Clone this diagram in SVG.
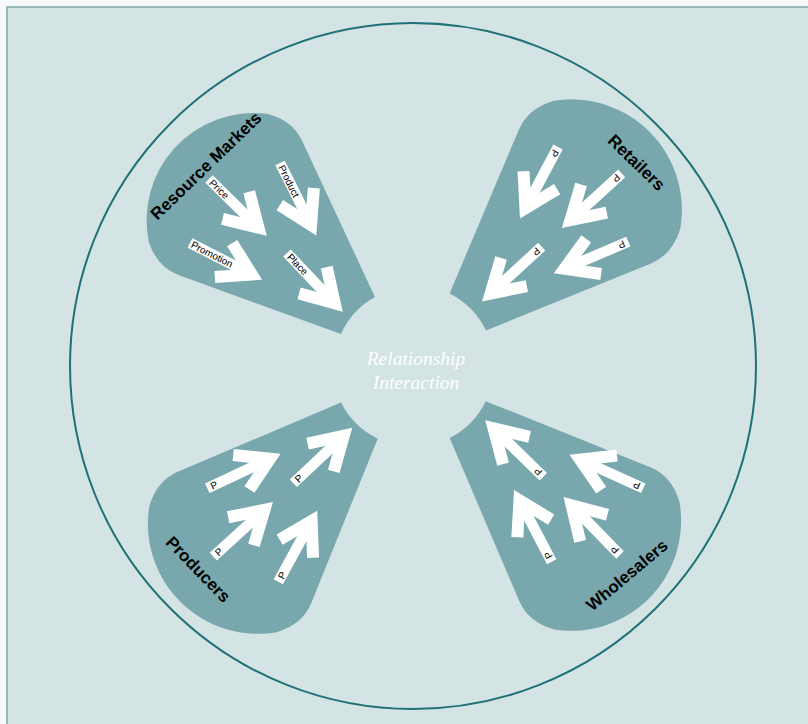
<svg xmlns="http://www.w3.org/2000/svg" xmlns:xlink="http://www.w3.org/1999/xlink" width="808" height="724" viewBox="0 0 808 724">
<style>
.page{fill:#f6fafa}
.bg{fill:#d4e3e4;stroke:#82a7a9;stroke-width:1.5}
.ring{fill:none;stroke:#1e7276;stroke-width:2}
.lobe{fill:#78a8ad}
.lbl{font-family:"Liberation Sans",Arial,sans-serif;font-size:10px;fill:#000}
.title{font-family:"Liberation Sans",Arial,sans-serif;font-weight:bold;font-size:17px;fill:#000;text-anchor:middle}
.center{font-family:"Liberation Serif","Times New Roman",serif;font-style:italic;font-size:19.5px;fill:#fff;text-anchor:middle}
</style>
<defs>
<path id="lobeShape" d="M75.8,-25.5 L238,-92.7 Q259.3,-101.4 282.6,-88.5 A109,109 0 0 1 282.6,88.5 Q259.3,101.4 238,92.7 L75.8,25.5 A80,80 0 0 0 75.8,-25.5 Z"/>
<g id="arrowShape" fill="#fff">
<rect x="0" y="-5.25" width="60" height="10.5"/>
<polygon points="81,0 40.7,-24.2 34.5,-13.9 57.7,0 34.5,13.9 40.7,24.2"/>
</g>
</defs>
<rect class="page" x="0" y="0" width="808" height="724"/>
<rect class="bg" x="7" y="7" width="820" height="740"/>
<circle class="ring" cx="413" cy="366" r="343"/>

<g id="resource-markets">
<use xlink:href="#lobeShape" href="#lobeShape" class="lobe" transform="translate(413,366) rotate(222.5) scale(0.985)"/>
<text class="title" transform="translate(210,170) rotate(-44)">Resource Markets</text>
</g>
<g id="retailers">
<use xlink:href="#lobeShape" href="#lobeShape" class="lobe" transform="translate(413,366) rotate(-44.6) scale(1.015)"/>
<text class="title" transform="translate(632.5,166.8) rotate(44)">Retailers</text>
</g>
<g id="producers">
<use xlink:href="#lobeShape" href="#lobeShape" class="lobe" transform="translate(413,366) rotate(134.5) scale(1.01)"/>
<text class="title" transform="translate(194,573.4) rotate(46)">Producers</text>
</g>
<g id="wholesalers">
<use xlink:href="#lobeShape" href="#lobeShape" class="lobe" transform="translate(413,366) rotate(44.4) scale(1.01)"/>
<text class="title" transform="translate(630.6,579.6) rotate(-40)">Wholesalers</text>
</g>
<g id="relationship-interaction">
<text class="center" x="416" y="365">Relationship</text>
<text class="center" x="416" y="389">Interaction</text>
</g>

<g id="connectors">
<g transform="translate(209,179) rotate(44.5)"><use xlink:href="#arrowShape" href="#arrowShape"/><text class="lbl" x="3" y="3.6">Price</text></g>
<g transform="translate(280,163) rotate(63.4)"><use xlink:href="#arrowShape" href="#arrowShape"/><text class="lbl" x="3" y="3.6">Product</text></g>
<g transform="translate(190,243) rotate(27)"><use xlink:href="#arrowShape" href="#arrowShape"/><text class="lbl" x="2" y="3.6">Promotion</text></g>
<g transform="translate(287,253) rotate(46.5)"><use xlink:href="#arrowShape" href="#arrowShape"/><text class="lbl" x="3" y="3.6">Place</text></g>

<g transform="translate(558,147) rotate(118)"><use xlink:href="#arrowShape" href="#arrowShape"/><text class="lbl" x="4" y="3.6">P</text></g>
<g transform="translate(621.7,173.3) rotate(137.6)"><use xlink:href="#arrowShape" href="#arrowShape"/><text class="lbl" x="4" y="3.6">P</text></g>
<g transform="translate(541.7,246.7) rotate(137.5)"><use xlink:href="#arrowShape" href="#arrowShape"/><text class="lbl" x="4" y="3.6">P</text></g>
<g transform="translate(628.3,241.7) rotate(157)"><use xlink:href="#arrowShape" href="#arrowShape"/><text class="lbl" x="4" y="3.6">P</text></g>

<g transform="translate(207.3,488.3) rotate(-25.2)"><use xlink:href="#arrowShape" href="#arrowShape"/><text class="lbl" x="4" y="3.6">P</text></g>
<g transform="translate(293.3,483.3) rotate(-43.3)"><use xlink:href="#arrowShape" href="#arrowShape"/><text class="lbl" x="4" y="3.6">P</text></g>
<g transform="translate(213.3,556.7) rotate(-42.5)"><use xlink:href="#arrowShape" href="#arrowShape"/><text class="lbl" x="4" y="3.6">P</text></g>
<g transform="translate(278.3,581.7) rotate(-61.3)"><use xlink:href="#arrowShape" href="#arrowShape"/><text class="lbl" x="4" y="3.6">P</text></g>

<g transform="translate(543.3,476.7) rotate(224.2)"><use xlink:href="#arrowShape" href="#arrowShape"/><text class="lbl" x="4" y="3.6">P</text></g>
<g transform="translate(643.3,488.3) rotate(204.4)"><use xlink:href="#arrowShape" href="#arrowShape"/><text class="lbl" x="4" y="3.6">P</text></g>
<g transform="translate(551.7,561.7) rotate(242.3)"><use xlink:href="#arrowShape" href="#arrowShape"/><text class="lbl" x="4" y="3.6">P</text></g>
<g transform="translate(620,555) rotate(225.8)"><use xlink:href="#arrowShape" href="#arrowShape"/><text class="lbl" x="4" y="3.6">P</text></g>
</g>
</svg>
